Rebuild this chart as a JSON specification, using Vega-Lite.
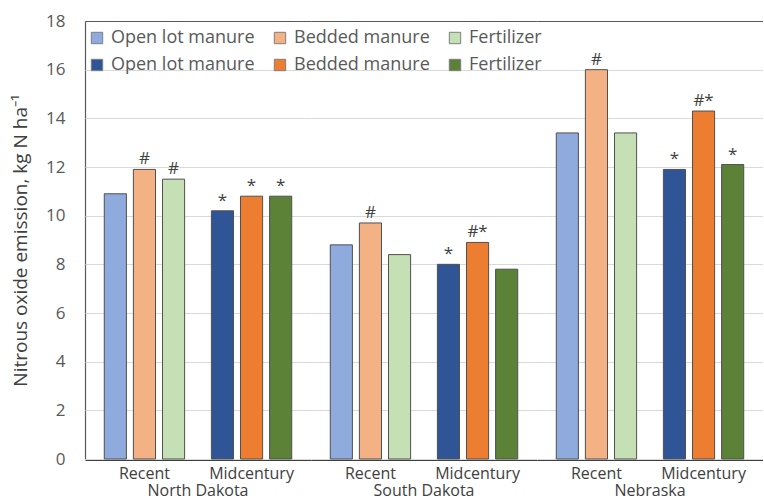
{
  "$schema": "https://vega.github.io/schema/vega-lite/v6.json",
  "padding": {"left": 11, "top": 12, "right": 0, "bottom": 0},
  "background": "white",
  "data": {"values": [
    {"state": "North Dakota", "period": "Recent", "type": "Open lot manure", "series": "Open lot manure|R", "value": 10.9, "note": ""},
    {"state": "North Dakota", "period": "Recent", "type": "Bedded manure", "series": "Bedded manure|R", "value": 11.9, "note": "#"},
    {"state": "North Dakota", "period": "Recent", "type": "Fertilizer", "series": "Fertilizer|R", "value": 11.5, "note": "#"},
    {"state": "North Dakota", "period": "Midcentury", "type": "Open lot manure", "series": "Open lot manure|M", "value": 10.2, "note": "*"},
    {"state": "North Dakota", "period": "Midcentury", "type": "Bedded manure", "series": "Bedded manure|M", "value": 10.8, "note": "*"},
    {"state": "North Dakota", "period": "Midcentury", "type": "Fertilizer", "series": "Fertilizer|M", "value": 10.8, "note": "*"},
    {"state": "South Dakota", "period": "Recent", "type": "Open lot manure", "series": "Open lot manure|R", "value": 8.8, "note": ""},
    {"state": "South Dakota", "period": "Recent", "type": "Bedded manure", "series": "Bedded manure|R", "value": 9.7, "note": "#"},
    {"state": "South Dakota", "period": "Recent", "type": "Fertilizer", "series": "Fertilizer|R", "value": 8.4, "note": ""},
    {"state": "South Dakota", "period": "Midcentury", "type": "Open lot manure", "series": "Open lot manure|M", "value": 8.0, "note": "*"},
    {"state": "South Dakota", "period": "Midcentury", "type": "Bedded manure", "series": "Bedded manure|M", "value": 8.9, "note": "#*"},
    {"state": "South Dakota", "period": "Midcentury", "type": "Fertilizer", "series": "Fertilizer|M", "value": 7.8, "note": ""},
    {"state": "Nebraska", "period": "Recent", "type": "Open lot manure", "series": "Open lot manure|R", "value": 13.4, "note": ""},
    {"state": "Nebraska", "period": "Recent", "type": "Bedded manure", "series": "Bedded manure|R", "value": 16.0, "note": "#"},
    {"state": "Nebraska", "period": "Recent", "type": "Fertilizer", "series": "Fertilizer|R", "value": 13.4, "note": ""},
    {"state": "Nebraska", "period": "Midcentury", "type": "Open lot manure", "series": "Open lot manure|M", "value": 11.9, "note": "*"},
    {"state": "Nebraska", "period": "Midcentury", "type": "Bedded manure", "series": "Bedded manure|M", "value": 14.3, "note": "#*"},
    {"state": "Nebraska", "period": "Midcentury", "type": "Fertilizer", "series": "Fertilizer|M", "value": 12.1, "note": "*"}
  ]},
  "facet": {
    "column": {
      "field": "state",
      "type": "nominal",
      "sort": ["North Dakota", "South Dakota", "Nebraska"],
      "title": null,
      "header": {"labelOrient": "bottom", "labelFont": "Open Sans", "labelFontSize": 16, "labelColor": "#404040", "labelPadding": 2}
    }
  },
  "spacing": 0,
  "spec": {
    "width": 226,
    "height": 438,
    "layer": [
      {
        "mark": {"type": "bar", "stroke": "#505050", "strokeWidth": 1},
        "encoding": {
          "x": {"field": "period", "type": "nominal", "sort": ["Recent", "Midcentury"],
                "scale": {"paddingInner": 0.25, "paddingOuter": 0.18},
                "axis": {"title": null, "labelAngle": 0, "ticks": false, "labelFont": "Open Sans", "labelFontSize": 16, "labelColor": "#404040", "labelPadding": 5, "domainColor": "#404040", "domainWidth": 1.2}},
          "xOffset": {"field": "type", "type": "nominal", "sort": ["Open lot manure", "Bedded manure", "Fertilizer"], "scale": {"paddingInner": 0.24}},
          "y": {"field": "value", "type": "quantitative", "scale": {"domain": [0, 18], "nice": false},
                "axis": {"values": [0, 2, 4, 6, 8, 10, 12, 14, 16, 18], "title": "Nitrous oxide emission, kg N ha⁻¹", "titleFont": "Open Sans", "titleFontSize": 19, "titleFontWeight": "normal", "titleColor": "#404040", "titlePadding": 15, "labelFont": "Open Sans", "labelFontSize": 17, "labelColor": "#595959", "labelPadding": 20, "ticks": false, "domain": true, "domainColor": "#595959", "domainWidth": 1.2,
                         "gridColor": {"condition": {"test": "datum.value === 18", "value": "#595959"}, "value": "#d9d9d9"},
                         "gridWidth": {"condition": {"test": "datum.value === 18", "value": 1.2}, "value": 1}}},
          "color": {"field": "series", "type": "nominal",
                    "scale": {"domain": ["Open lot manure|R", "Open lot manure|M", "Bedded manure|R", "Bedded manure|M", "Fertilizer|R", "Fertilizer|M"],
                              "range": ["#8FAADC", "#2F5597", "#F4B183", "#ED7D31", "#C5E0B4", "#5B8237"]},
                    "legend": {"title": null, "orient": "none", "legendX": 3, "legendY": 8, "columns": 3, "gridAlign": "each", "columnPadding": 16, "rowPadding": 9, "symbolType": "square", "symbolSize": 130, "symbolStrokeColor": "#7f7f7f", "symbolStrokeWidth": 1, "labelFont": "Open Sans", "labelFontSize": 18, "labelColor": "#595959", "labelOffset": 5,
                               "labelExpr": "split(datum.label, '|')[0]"}}
        }
      },
      {
        "mark": {"type": "text", "font": "Open Sans", "fontSize": 17, "color": "#404040", "baseline": "alphabetic", "dy": -5},
        "encoding": {
          "x": {"field": "period", "type": "nominal", "sort": ["Recent", "Midcentury"]},
          "xOffset": {"field": "type", "type": "nominal", "sort": ["Open lot manure", "Bedded manure", "Fertilizer"]},
          "y": {"field": "value", "type": "quantitative"},
          "text": {"field": "note"}
        }
      }
    ]
  },
  "config": {
    "view": {"stroke": null},
    "axisY": {"grid": true},
    "axisX": {"grid": false}
  }
}
